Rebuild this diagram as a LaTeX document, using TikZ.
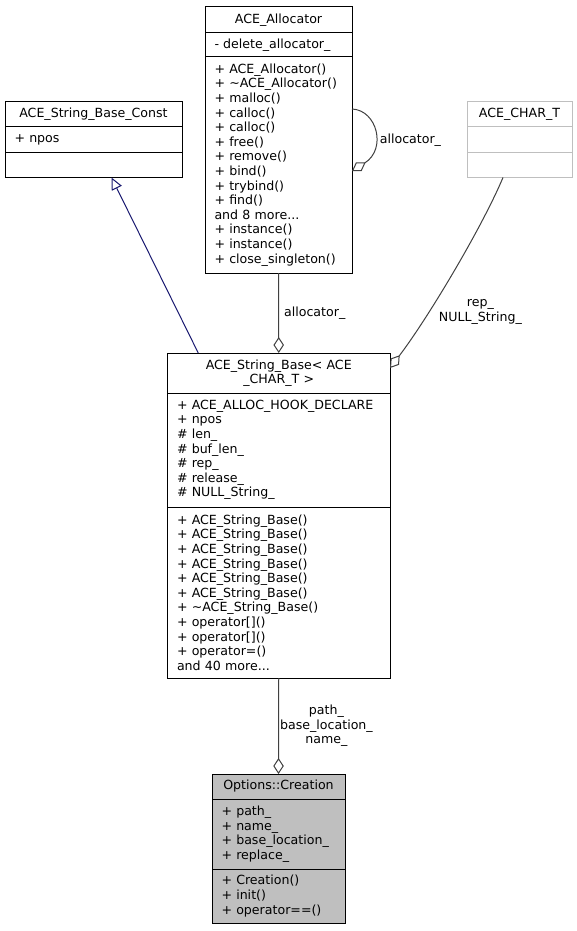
\documentclass[tikz,border=0pt]{standalone}
\usepackage{fontspec}
\setmainfont{DejaVu Sans}
\usetikzlibrary{arrows.meta,positioning}
\definecolor{edgegray}{HTML}{404040}
\definecolor{boxgray}{HTML}{BFBFBF}
\definecolor{inhblue}{HTML}{191970}
\tikzset{
    every picture/.style={line join=miter},
    classhead/.style={draw=black,line width=1pt,inner xsep=9.5pt,inner ysep=0pt,
      outer sep=0pt,align=center,font=\fontsize{12.6}{14.6}\selectfont},
    classbody/.style={classhead,align=left},
    undoc/.style={draw=boxgray},
    current/.style={fill=boxgray},
    aggrarrow/.style={draw=edgegray,line width=1pt,
      -{Diamond[open,length=16pt,width=10.5pt]}},
    inheritarrow/.style={draw=inhblue,line width=1pt,
      -{Triangle[open,length=12pt,width=11pt]}},
    edgelabel/.style={inner sep=0pt,align=center,font=\fontsize{12.6}{14.6}\selectfont}
}
\begin{document}
\begin{tikzpicture}[x=1pt,y=-1pt]
    \useasboundingbox (0,0) rectangle (577,931);
    % ACE_Allocator
    \node[classhead,text width=128pt,minimum height=26pt,anchor=north west] (alloct) at (205,7) {ACE\_Allocator};
    \node[classbody,text width=128pt,minimum height=24pt,below=0pt of alloct] (alloca) {- delete\_allocator\_};
    \node[classbody,text width=128pt,minimum height=216pt,below=0pt of alloca] (allocm) {+ ACE\_Allocator()\\+ \textasciitilde ACE\_Allocator()\\+ malloc()\\+ calloc()\\+ calloc()\\+ free()\\+ remove()\\+ bind()\\+ trybind()\\+ find()\\and 8 more...\\+ instance()\\+ instance()\\+ close\_singleton()};
    % ACE_String_Base_Const
    \node[classhead,text width=158pt,minimum height=25.5pt,anchor=north west] (constt) at (5,101.5) {ACE\_String\_Base\_Const};
    \node[classbody,text width=158pt,minimum height=25pt,below=0pt of constt] (consta) {+ npos};
    \node[classbody,text width=158pt,minimum height=25.5pt,below=0pt of consta] (constm) {};
    % ACE_CHAR_T
    \node[classhead,undoc,text width=86pt,minimum height=25.5pt,anchor=north west] (chart) at (467,101.5) {ACE\_CHAR\_T};
    \node[classbody,undoc,text width=86pt,minimum height=25pt,below=0pt of chart] (chara) {};
    \node[classbody,undoc,text width=86pt,minimum height=25.5pt,below=0pt of chara] (charm) {};
    % ACE_String_Base
    \node[classhead,text width=203.5pt,minimum height=40pt,anchor=north west] (baset) at (167.5,353) {ACE\_String\_Base< ACE\\\_CHAR\_T >};
    \node[classbody,text width=203.5pt,minimum height=114pt,below=0pt of baset] (basea) {+ ACE\_ALLOC\_HOOK\_DECLARE\\+ npos\\\# len\_\\\# buf\_len\_\\\# rep\_\\\# release\_\\\# NULL\_String\_};
    \node[classbody,text width=203.5pt,minimum height=171pt,below=0pt of basea] (basem) {+ ACE\_String\_Base()\\+ ACE\_String\_Base()\\+ ACE\_String\_Base()\\+ ACE\_String\_Base()\\+ ACE\_String\_Base()\\+ ACE\_String\_Base()\\+ \textasciitilde ACE\_String\_Base()\\+ operator[]()\\+ operator[]()\\+ operator=()\\and 40 more...};
    % Options::Creation
    \node[classhead,current,text width=114pt,minimum height=25pt,anchor=north west] (creatt) at (212,774) {Options::Creation};
    \node[classbody,current,text width=114pt,minimum height=70pt,below=0pt of creatt] (creata) {+ path\_\\+ name\_\\+ base\_location\_\\+ replace\_};
    \node[classbody,current,text width=114pt,minimum height=54pt,below=0pt of creata] (creatm) {+ Creation()\\+ init()\\+ operator==()};
    % connectors
    \draw[inheritarrow] ([xshift=-80.5pt]baset.north) -- ([xshift=18pt]constm.south);
    \draw[aggrarrow] (allocm.south) -- node[edgelabel,right=5pt]{allocator\_} (baset.north);
    \draw[aggrarrow] ([yshift=56pt]allocm.east) .. controls +(25,1) and +(35,-22) .. node[edgelabel,pos=0.6,anchor=west,xshift=5pt]{allocator\_} ([yshift=-6pt]allocm.east);
    \draw[aggrarrow] ([xshift=-16.5pt]charm.south) .. controls +(-21,50) and +(38,-50) .. node[edgelabel,pos=0.69,anchor=west,xshift=10pt]{rep\_\\NULL\_String\_} ([yshift=5pt]baset.east);
    \draw[aggrarrow] (basem.south) -- node[edgelabel,right=1pt]{path\_\\base\_location\_\\name\_} (creatt.north);
\end{tikzpicture}
\end{document}
